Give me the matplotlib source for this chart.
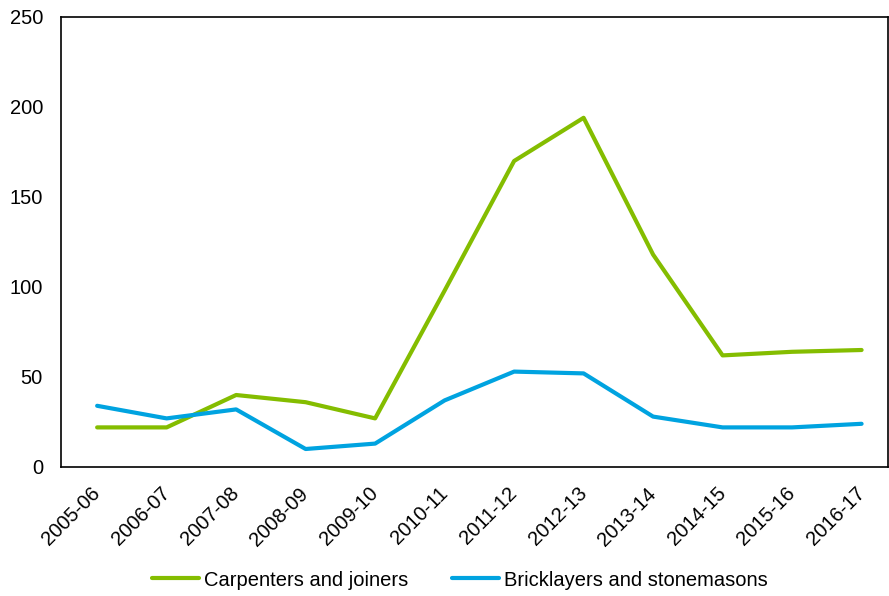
import matplotlib
matplotlib.use("Agg")
import matplotlib.pyplot as plt

plt.rcParams['font.family'] = ['Liberation Sans', 'DejaVu Sans']

years = ["2005-06", "2006-07", "2007-08", "2008-09", "2009-10", "2010-11",
         "2011-12", "2012-13", "2013-14", "2014-15", "2015-16", "2016-17"]
carpenters = [22, 22, 40, 36, 27, 98, 170, 194, 118, 62, 64, 65]
bricklayers = [34, 27, 32, 10, 13, 37, 53, 52, 28, 22, 22, 24]
y_ticks = [0, 50, 100, 150, 200, 250]

green = "#84BD00"
blue = "#00A3E0"

fig = plt.figure(figsize=(8.89, 5.96), dpi=100)
ax = fig.add_axes([61 / 889, 1 - 467 / 596, (888 - 61) / 889, (467 - 17) / 596])

x = list(range(len(years)))
ax.plot(x, carpenters, color=green, lw=3.0, solid_capstyle="round",
        label="Carpenters and joiners")
ax.plot(x, bricklayers, color=blue, lw=3.0, solid_capstyle="round",
        label="Bricklayers and stonemasons")

ax.set_xlim(-0.52, 11.38)
ax.set_ylim(0, 250)
ax.set_yticks(y_ticks)
ax.set_xticks(x)
ax.set_xticklabels(years, rotation=45, ha="right", va="center",
                   rotation_mode="anchor")
ax.tick_params(axis="both", length=0, labelsize=14.5)
ax.tick_params(axis="y", pad=13)
ax.tick_params(axis="x", pad=17)
for s in ax.spines.values():
    s.set_linewidth(1.2)
    s.set_color("black")

fig.legend(loc="center", bbox_to_anchor=(460 / 889, 1 - 580 / 596), ncol=2,
           frameon=False, fontsize=14.5, handlelength=2.3, columnspacing=2.2,
           handletextpad=0.25)

fig.savefig("out.png", dpi=100)
